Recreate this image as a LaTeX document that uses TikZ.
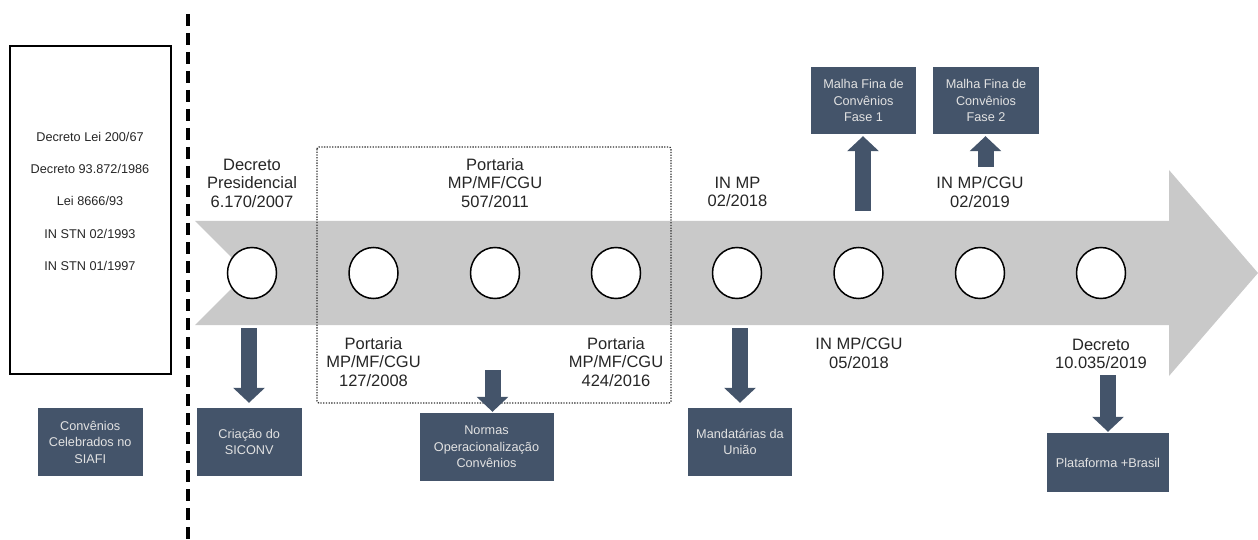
\documentclass[tikz,border=0pt]{standalone}
\usepackage{fontspec}
\setmainfont{Liberation Sans}
\usetikzlibrary{arrows.meta,shapes.geometric}
\definecolor{slate}{HTML}{44546A}
\definecolor{bandgray}{HTML}{C9C9C9}
\definecolor{boxtxt}{HTML}{E2E2E2}
\tikzset{
  lbl/.style={align=center, inner sep=0pt, text=black!85, font=\fontsize{16.5}{18.5}\selectfont},
  ltxt/.style={inner sep=0pt, text=black!85, font=\fontsize{12.7}{15}\selectfont},
  dbox/.style={fill=slate, text=boxtxt, align=center, inner sep=0pt, font=\fontsize{12.7}{16.5}\selectfont},
  blk/.style={draw=slate, line width=16pt, -{Triangle[width=31pt,length=15pt]}},
  milestone/.style={shape=ellipse, draw=black, fill=white, line width=1.5pt, minimum width=49pt, minimum height=51pt, inner sep=0pt}
}
\begin{document}
\begin{tikzpicture}[x=1pt,y=-1pt]
\useasboundingbox (0,0) rectangle (1258,540);
% left box
\node[draw=black, line width=1.5pt, minimum width=161pt, minimum height=328pt, inner sep=0pt] (lbox) at (90.5,210) {};
\node[ltxt] (l1) at (90,137) {Decreto Lei 200/67};
\node[ltxt] (l2) at (90,169) {Decreto 93.872/1986};
\node[ltxt] (l3) at (90,201) {Lei 8666/93};
\node[ltxt] (l4) at (90,234) {IN STN 02/1993};
\node[ltxt] (l5) at (90,266) {IN STN 01/1997};
% dashed separator
\coordinate (dtop) at (188,14);
\coordinate (dbot) at (188,540);
\draw[line width=3.5pt, dash pattern=on 12pt off 7pt] (dtop) -- (dbot);
% timeline band
\fill[bandgray] (195,221) -- (1169,221) -- (1169,170) -- (1258,273) -- (1169,376) -- (1169,325) -- (195,325) -- (247,273) -- cycle;
% dotted group
\draw[black!80, line width=1.3pt, dash pattern=on 1.3pt off 1.4pt, rounded corners=2pt] (317,147) rectangle (671,403);
% milestones
\node[milestone] (c1) at (252,273) {};
\node[milestone] (c2) at (373.5,273) {};
\node[milestone] (c3) at (495,273) {};
\node[milestone] (c4) at (616,273) {};
\node[milestone] (c5) at (737,273) {};
\node[milestone] (c6) at (858.5,273) {};
\node[milestone] (c7) at (980,273) {};
\node[milestone] (c8) at (1101,273) {};
% labels
\node[lbl] (t1) at (252,183) {Decreto\\Presidencial\\6.170/2007};
\node[lbl] (t3) at (495,183) {Portaria\\MP/MF/CGU\\507/2011};
\node[lbl] (t2) at (373.5,362) {Portaria\\MP/MF/CGU\\127/2008};
\node[lbl] (t4) at (616,362) {Portaria\\MP/MF/CGU\\424/2016};
\node[lbl] (t5) at (737.5,192) {IN MP\\02/2018};
\node[lbl] (t6) at (859,353) {IN MP/CGU\\05/2018};
\node[lbl] (t7) at (980,192) {IN MP/CGU\\02/2019};
\node[lbl] (t8) at (1101,354) {Decreto\\10.035/2019};
% dark boxes
\node[dbox, minimum width=105pt, minimum height=68pt] (siafi) at (90.2,442) {Convênios\\Celebrados no\\SIAFI};
\node[dbox, minimum width=105pt, minimum height=68pt] (criacao) at (249.2,442) {Criação do\\SICONV};
\node[dbox, minimum width=134pt, minimum height=68pt] (normas) at (486.5,447) {Normas\\Operacionalização\\Convênios};
\node[dbox, minimum width=104pt, minimum height=68pt] (mandat) at (740,442) {Mandatárias da\\União};
\node[dbox, minimum width=105pt, minimum height=67pt] (fase1) at (863.5,100.5) {Malha Fina de\\Convênios\\Fase 1};
\node[dbox, minimum width=106pt, minimum height=67pt] (fase2) at (986,100.5) {Malha Fina de\\Convênios\\Fase 2};
\node[dbox, minimum width=122pt, minimum height=59pt] (plat) at (1108,462.5) {Plataforma +Brasil};
% block arrows
\coordinate (a1) at (249,328);
\coordinate (a3) at (492.5,370);
\coordinate (a5) at (740,328);
\coordinate (a6) at (863,211);
\coordinate (a7) at (985.5,167);
\coordinate (a8) at (1108,375);
\draw[blk, shorten >=5pt] (a1) -- (a1 |- criacao.north);
\draw[blk, shorten >=1pt] (a3) -- (a3 |- normas.north);
\draw[blk, shorten >=5pt] (a5) -- (a5 |- mandat.north);
\draw[blk, shorten >=2pt] (a6) -- (a6 |- fase1.south);
\draw[blk, shorten >=2pt] (a7) -- (a7 |- fase2.south);
\draw[blk, shorten >=1pt] (a8) -- (a8 |- plat.north);
\end{tikzpicture}
\end{document}
